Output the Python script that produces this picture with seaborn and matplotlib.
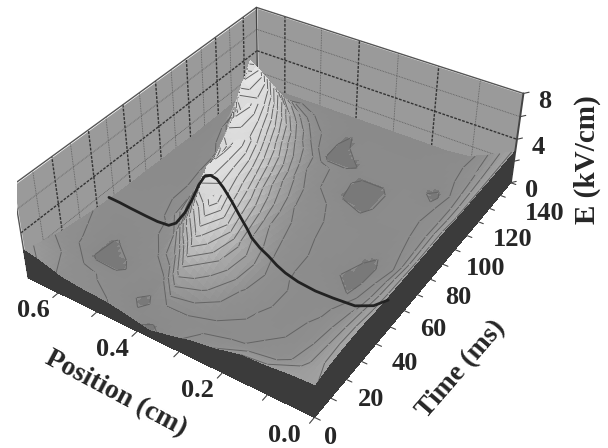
import numpy as np
import seaborn as sns
import matplotlib
matplotlib.use("Agg")
import matplotlib.pyplot as plt
from matplotlib.colors import LinearSegmentedColormap
from mpl_toolkits.mplot3d import proj3d

sns.set_style("white")
plt.rcParams['font.family'] = ['Liberation Serif', 'DejaVu Serif']
plt.rcParams['font.weight'] = 'bold'

# E field (kV/cm), one row per time, one column per position
time_ms = [0, 10, 20, 30, 40, 50, 60, 70, 80, 90, 100, 110, 120, 130, 140, 150]
position_cm = [0, .053, .106, .16, .213, .266, .32, .37, .425, .478, .53, .585, .64, .68]
e_field = [
    [2.7, 2.6, 2.4, 2.3, 1.8, 1.5, 1.0, 0.6, 1.0, 1.3, 1.4, 1.6, 2.2, 2.5],
    [3.0, 2.1, 1.5, 1.3, 1.2, 1.1, 1.2, 1.2, 0.6, 1.0, 1.2, 1.4, 1.8, 2.0],
    [3.1, 2.0, 1.3, 1.2, 1.2, 1.5, 2.4, 3.2, 1.0, 1.1, 0.6, 0.6, 1.3, 1.6],
    [3.1, 1.9, 1.3, 1.1, 1.3, 1.8, 3.2, 5.0, 2.4, 1.2, 1.0, 0.7, 1.1, 1.4],
    [3.0, 1.8, 1.2, 1.1, 1.3, 1.9, 3.4, 6.8, 4.6, 1.7, 1.1, 1.0, 1.0, 1.2],
    [3.0, 1.6, 0.8, 1.1, 1.2, 1.7, 2.8, 5.6, 7.2, 3.0, 1.3, 1.1, 1.1, 1.1],
    [3.0, 1.5, 0.6, 0.8, 1.2, 1.5, 2.3, 4.8, 7.3, 4.2, 1.5, 1.1, 1.0, 1.0],
    [3.0, 1.3, 0.6, 1.0, 1.1, 1.4, 2.0, 3.8, 7.2, 5.6, 1.7, 1.0, 1.0, 1.0],
    [3.0, 1.4, 0.9, 1.0, 1.1, 1.3, 1.7, 3.0, 6.0, 7.2, 2.4, 1.0, 0.9, 0.9],
    [3.0, 1.5, 1.0, 1.0, 0.9, 1.2, 1.4, 2.4, 4.8, 7.5, 3.2, 1.1, 0.9, 0.9],
    [2.9, 1.5, 1.1, 1.1, 0.6, 0.7, 1.2, 1.8, 3.6, 6.4, 7.7, 1.5, 0.9, 0.8],
    [2.9, 1.5, 1.0, 1.1, 0.6, 0.6, 1.1, 1.5, 2.6, 4.8, 8.0, 3.0, 0.9, 0.8],
    [2.9, 1.6, 0.6, 1.0, 1.0, 1.0, 0.6, 0.5, 1.8, 3.2, 5.6, 7.0, 1.3, 0.8],
    [2.9, 1.7, 1.0, 0.9, 0.9, 0.9, 1.0, 0.6, 1.2, 2.0, 3.2, 3.0, 1.1, 0.8],
    [2.9, 1.8, 1.1, 0.9, 0.8, 0.8, 0.8, 0.8, 0.9, 1.2, 1.6, 1.4, 0.9, 0.8],
    [2.9, 1.9, 1.0, 0.8, 0.8, 0.8, 0.8, 0.8, 0.8, 0.8, 0.8, 0.8, 0.8, 0.8],
]

# black profile along position at one time
curve_time = 47
curve_position = [0, .03, .07, .12, .16, .2, .23, .25, .27, .29, .31, .32, .34, .355,
                  .375, .39, .405, .42, .435, .455, .475, .5, .52, .55, .58, .62, .65, .68]
curve_e = [2.8, 1.8, 1.1, 0.95, 0.9, 1.05, 1.35, 1.7, 2.2, 2.6, 3.2, 3.8, 4.8, 5.6,
           6.5, 7.0, 7.1, 6.8, 5.9, 4.3, 2.9, 1.6, 1.1, 1.0, 1.05, 1.15, 1.25, 1.3]

levels = [.75, 1.25, 1.75, 2.25, 2.75, 3.25, 3.75, 4.25, 4.75, 5.25, 5.75, 6.25, 6.75, 7.25, 7.75]
time_ticks = [0, 20, 40, 60, 80, 100, 120, 140]
time_label_dx = [16, 25, 29, 29, 28, 31, 35, 44]
position_ticks = [0.0, 0.2, 0.4, 0.6]
position_label_dx = [-30, -25, -25, -25]
e_ticks = [0, 4, 8]

T_MAX, P_MAX, E_MAX = 150, 0.68, 8

fig = plt.figure(figsize=(6.08, 4.48), dpi=100)
ax = fig.add_axes([0, 0, 1, 1], projection='3d', computed_zorder=False)
ax.set_xlim(0, T_MAX)
ax.set_ylim(0, P_MAX)
ax.set_zlim(0, E_MAX)
ax.view_init(elev=37.078, azim=-146.845)
ax.set_proj_type('persp', focal_length=0.4396)
ax.set_box_aspect((1.0726, 0.8829, 0.3062))
ax.set_axis_off()

# camera fit against the box corners, in pixels
s, cx, cy = 2786.46, 281.41, 183.75
vx0, vx1 = ax.viewLim.intervalx
vy0, vy1 = ax.viewLim.intervaly
ax.set_position([(cx + s * vx0) / 608, (448 - cy + s * vy0) / 448,
                 s * (vx1 - vx0) / 608, s * (vy1 - vy0) / 448])

wall = '#9a9a9a'
dark = '#3b3b3b'
cmap = LinearSegmentedColormap.from_list('grey_e', [
    (0, '#787878'), (.0937, '#797979'), (.0938, '#8a8a8a'), (.2, '#8f8f8f'), (.375, '#a4a4a4'),
    (.5, '#bababa'), (.625, '#cccccc'), (.75, '#d8d8d8'), (.875, '#e0e0e0'), (1, '#e8e8e8')], N=512)
norm = plt.Normalize(0, 8)

# walls
zz = np.array([[0, 0], [E_MAX, E_MAX]])
ax.plot_surface(np.array([[0, T_MAX], [0, T_MAX]]), np.full((2, 2), P_MAX), zz, color=wall, shade=False, zorder=1)
ax.plot_surface(np.full((2, 2), T_MAX), np.array([[0, P_MAX], [0, P_MAX]]), zz, color=wall, shade=False, zorder=1)

for t in range(10, 150, 10):
    bold = t % 20 == 0
    ax.plot([t, t], [P_MAX, P_MAX], [0, E_MAX], color='#333333' if bold else '#5c5c5c',
            ls=(0, (2, 1)) if bold else (0, (1, 1)), lw=1.0 if bold else 0.6, zorder=2)
for p in [.1, .2, .3, .4, .5, .6]:
    bold = round(p * 10) % 2 == 0
    ax.plot([T_MAX, T_MAX], [p, p], [0, E_MAX], color='#333333' if bold else '#5c5c5c',
            ls=(0, (2, 1)) if bold else (0, (1, 1)), lw=1.0 if bold else 0.6, zorder=2)
for z in [2, 4, 6]:
    bold = z == 4
    kw = dict(color='#333333' if bold else '#5c5c5c', ls=(0, (2, 1)) if bold else (0, (1, 1)),
              lw=1.0 if bold else 0.6, zorder=2)
    ax.plot([0, T_MAX], [P_MAX, P_MAX], [z, z], **kw)
    ax.plot([T_MAX, T_MAX], [P_MAX, 0], [z, z], **kw)
ax.plot([0, 0, T_MAX, T_MAX], [P_MAX, P_MAX, P_MAX, 0], [0, E_MAX, E_MAX, E_MAX], color='#555555', lw=1.0, zorder=2)
ax.plot([T_MAX, T_MAX], [P_MAX, P_MAX], [0, E_MAX], color='#444444', lw=1.0, zorder=2)
ax.plot([T_MAX, T_MAX], [0, 0], [0, E_MAX], color='#444444', lw=1.4, zorder=2)

# surface, cell by cell from back to front so the ridge hides what is behind it
E = np.array(e_field)
order = 10
w = np.linspace(0, 1, 6)
for i in range(len(time_ms) - 2, -1, -1):
    for j in range(len(position_cm) - 2, -1, -1):
        t = time_ms[i] + w * (time_ms[i + 1] - time_ms[i])
        p = position_cm[j] + w * (position_cm[j + 1] - position_cm[j])
        Y, X = np.meshgrid(p, t)
        a, b = np.meshgrid(w, w, indexing='ij')
        Z = (E[i, j] * (1 - a) * (1 - b) + E[i + 1, j] * a * (1 - b)
             + E[i, j + 1] * (1 - a) * b + E[i + 1, j + 1] * a * b)
        mid = (Z[:-1, :-1] + Z[1:, :-1] + Z[:-1, 1:] + Z[1:, 1:]) / 4
        ax.plot_surface(X, Y, Z, facecolors=cmap(norm(mid)), shade=False, rstride=1, cstride=1,
                        linewidth=0, antialiased=False, zorder=order)
        cell = E[i:i + 2, j:j + 2]
        inside = [l for l in levels if cell.min() < l < cell.max()]
        if inside:
            ax.contour([time_ms[i], time_ms[i + 1]], [position_cm[j], position_cm[j + 1]], cell.T,
                       levels=inside, colors='#646464', linewidths=0.7, zorder=order + 0.5)
        order += 1

# dark sides at the front
ax.plot_surface(np.zeros((2, len(position_cm))), np.array([position_cm, position_cm]),
                np.array([np.zeros(len(position_cm)), E[0]]), color=dark, shade=False,
                linewidth=0, antialiased=False, zorder=order)
ax.plot_surface(np.array([time_ms, time_ms]), np.zeros((2, len(time_ms))),
                np.array([np.zeros(len(time_ms)), E[:, 0]]), color=dark, shade=False,
                linewidth=0, antialiased=False, zorder=order)
order += 1

ax.plot(np.full(len(curve_position), curve_time), curve_position, curve_e, color='#222222', lw=2.0, zorder=order)

# tick marks
tk = dict(color='#444444', lw=0.8, zorder=order)
for t in range(0, 160, 10):
    ax.plot([t, t], [0, -0.012], [0, 0], **tk)
for p in [.1, .2, .3, .4, .5, .6, 0.0]:
    ax.plot([0, -3], [p, p], [0, 0], **tk)
for z in [0, 2, 4, 6, 8]:
    ax.plot([T_MAX, T_MAX + 2], [0, -0.008], [z, z], **tk)


def tick_label(text, x, y, z, dx, dy):
    px, py, _ = proj3d.proj_transform(x, y, z, ax.get_proj())
    ax.annotate(text, xy=(px, py), xycoords='data', xytext=(dx, dy), textcoords='offset pixels',
                ha='center', va='center', fontsize=19, fontweight='bold', annotation_clip=False)


for p, dx in zip(position_ticks, position_label_dx):
    tick_label('%.1f' % p, 0, p, 0, dx, -18)
for t, dx in zip(time_ticks, time_label_dx):
    tick_label('%d' % t, t, 0, 0, dx, -20 + t * 0.015)
for z in e_ticks:
    tick_label('%d' % z, T_MAX, 0, z, 21, -8)

fig.text(116 / 608, 1 - 394 / 448, 'Position (cm)', rotation=-28, ha='center', va='center', fontsize=20, fontweight='bold')
fig.text(461 / 608, 1 - 369 / 448, 'Time (ms)', rotation=49, ha='center', va='center', fontsize=20, fontweight='bold')
fig.text(587 / 608, 1 - 160 / 448, 'E (kV/cm)', rotation=90, ha='center', va='center', fontsize=21, fontweight='bold')

fig.savefig('out.png', dpi=100)
